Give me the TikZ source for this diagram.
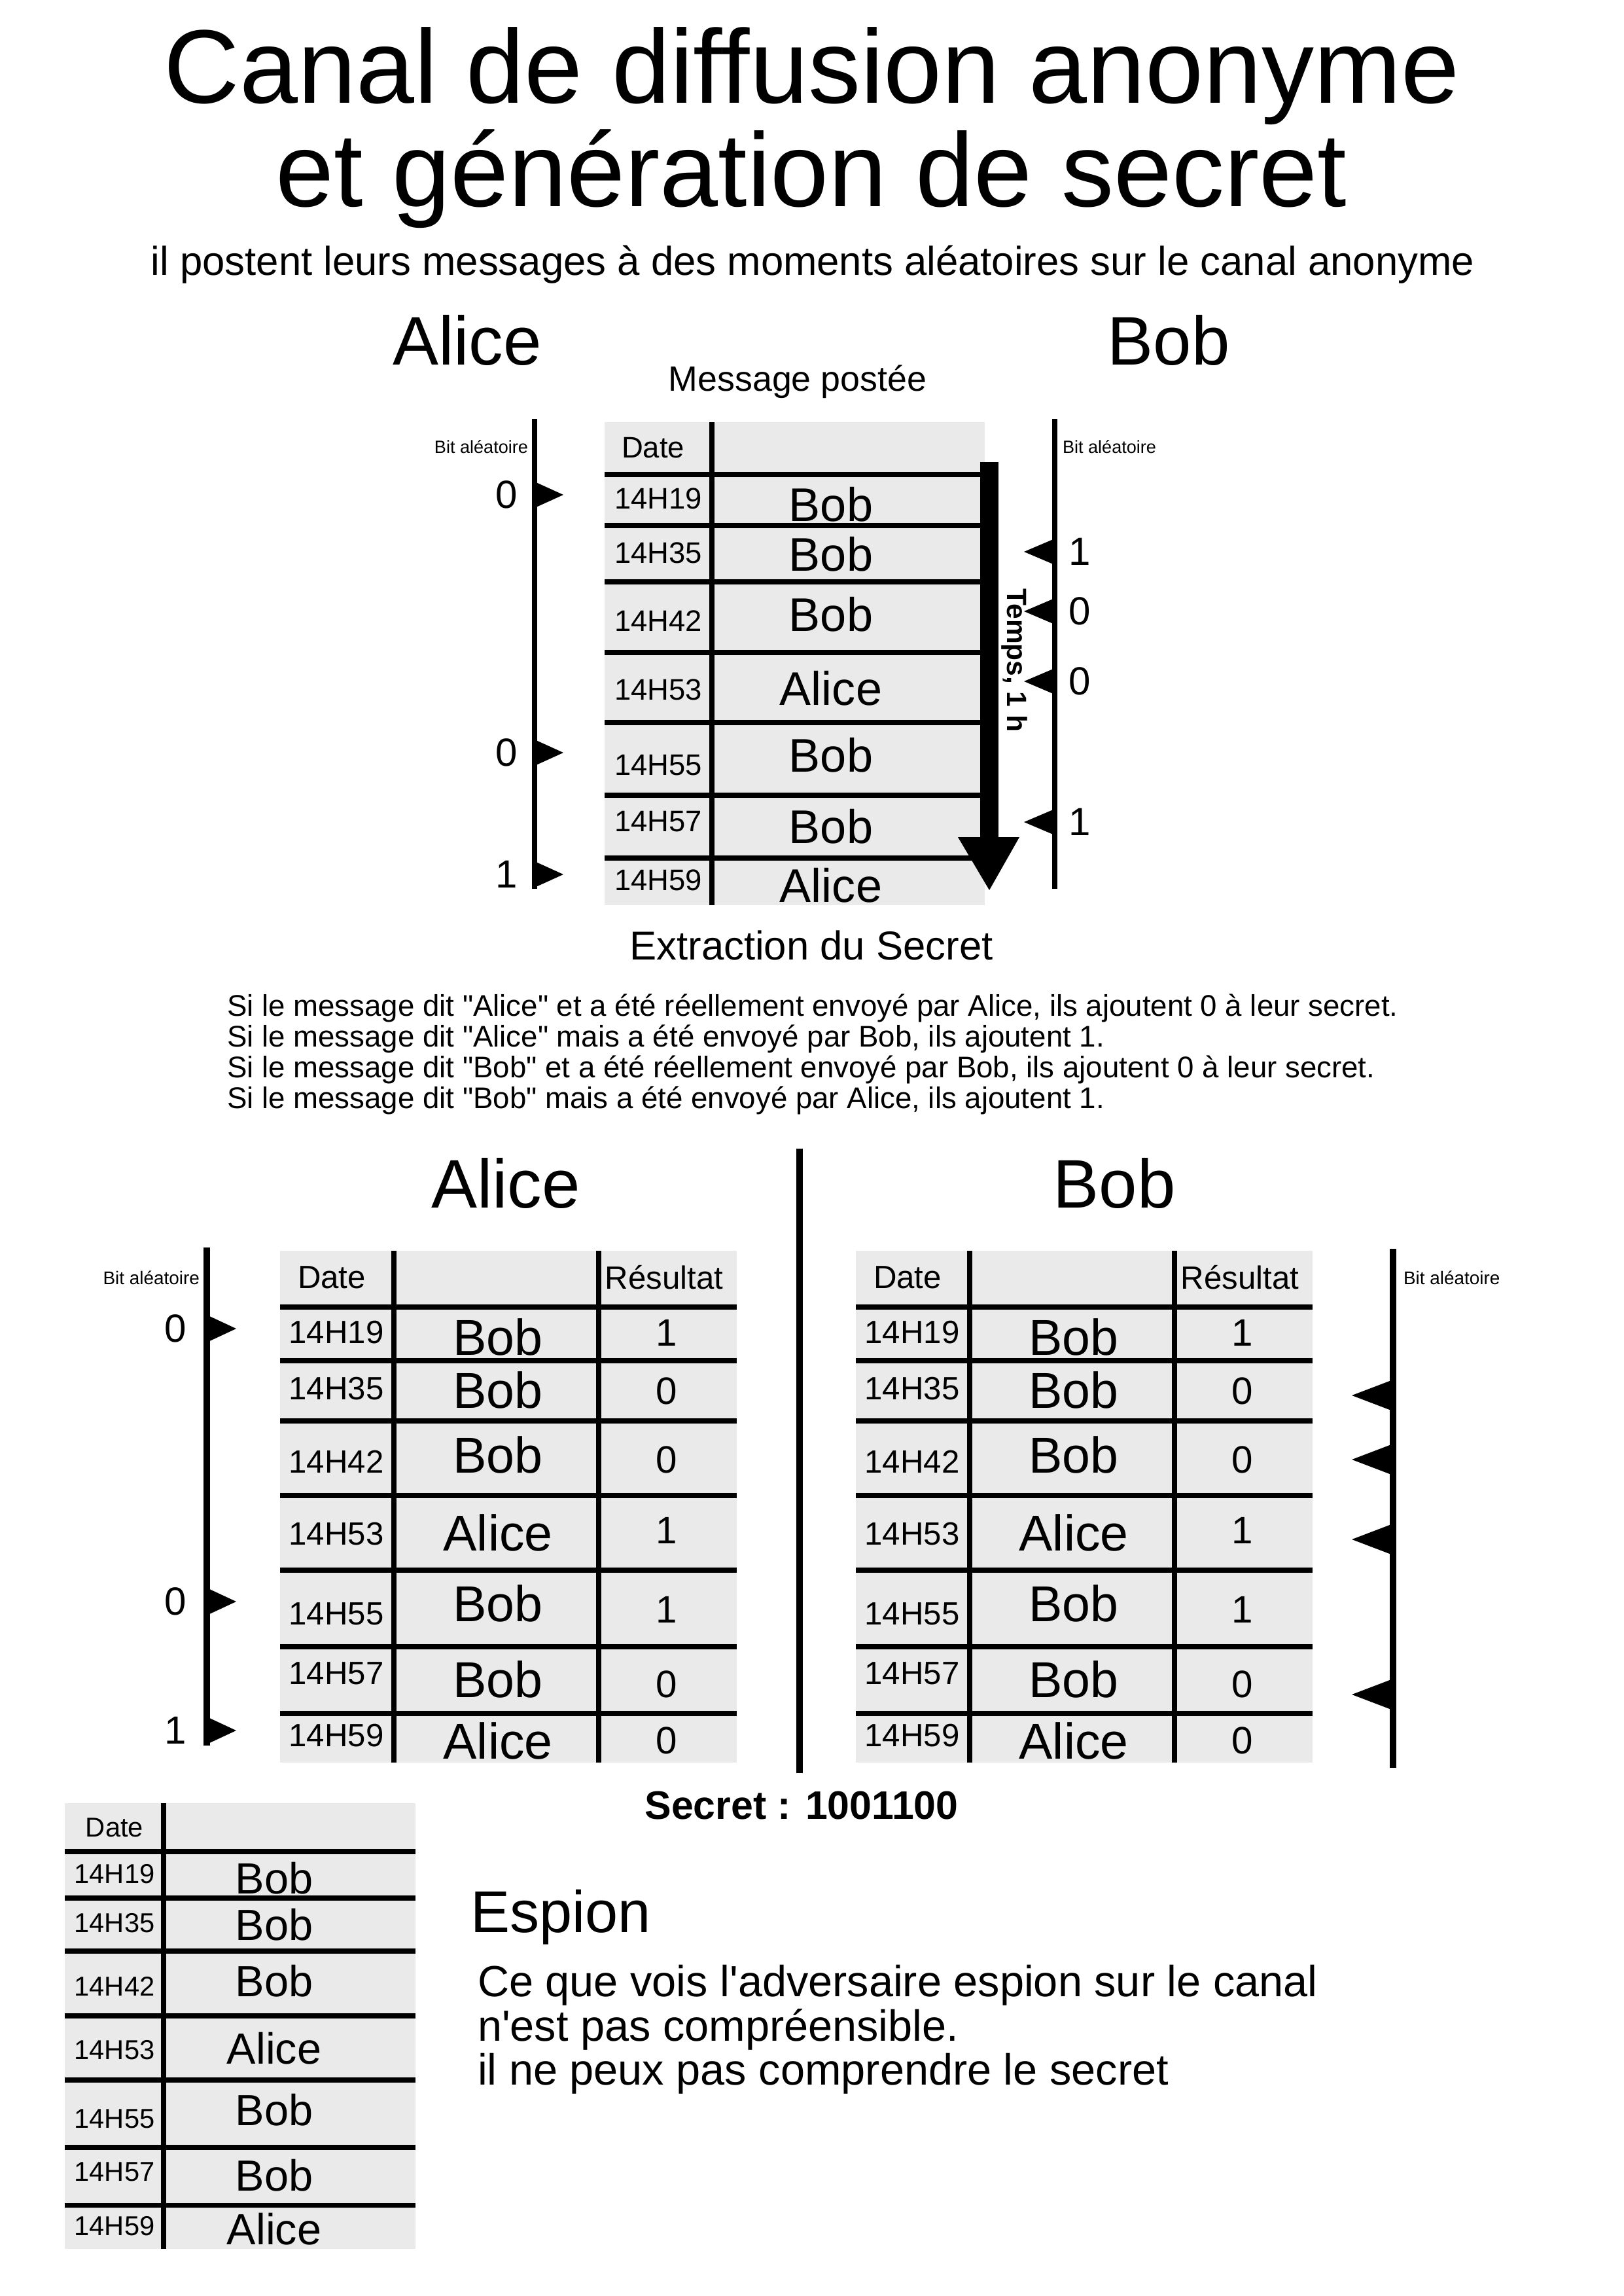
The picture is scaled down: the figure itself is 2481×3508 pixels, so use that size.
\documentclass[tikz,border=0pt]{standalone}
\usepackage{fontspec}
\setmainfont{Liberation Sans}
\definecolor{tabgray}{RGB}{234,234,234}
\newcommand{\fsz}[1]{\fontsize{#1}{#1}\selectfont}
\newcommand{\dq}{\XeTeXglyph\XeTeXcharglyph"22\relax}
\newcommand{\sq}{\XeTeXglyph\XeTeXcharglyph"27\relax}
\begin{document}
\begin{tikzpicture}[x=0.24pt,y=-0.24pt,
  txt/.style={inner sep=0pt,outer sep=0pt},
  tline/.style={line width=1.7pt},
  axistop/.style={line width=2pt},
  axislow/.style={line width=2.4pt},
  flag/.style={fill=black},
  tdate/.style={txt,font=\fsz{10.9}},
  tname/.style={txt,font=\fsz{17.3}},
  ldate/.style={txt,font=\fsz{11.8}},
  lname/.style={txt,font=\fsz{18.5}},
  lres/.style={txt,font=\fsz{14}},
  sdate/.style={txt,font=\fsz{10}},
  sname/.style={txt,font=\fsz{16}},
  bitlab/.style={txt,font=\fsz{14.4}},
  bitsmall/.style={txt,font=\fsz{6.5}},
  rule/.style={txt,anchor=base west,font=\fsz{10.95}},
  person/.style={txt,anchor=base,font=\fsz{25.2}}]
\useasboundingbox (0,0) rectangle (2481,3508);
\fill[white] (0,0) rectangle (2481,3508);

% ---------- titles ----------
\node[txt,anchor=base,font=\fsz{38.4}] (title1) at (1241,158) {Canal de diffusion anonyme};
\node[txt,anchor=base,font=\fsz{38.4}] (title2) at (1240,316) {et génération de secret};
\node[txt,anchor=base,font=\fsz{14.8}] (subtitle) at (1242,421) {il postent leurs messages à des moments aléatoires sur le canal anonyme};
\node[person] (aliceTop) at (714,558) {Alice};
\node[person] (bobTop) at (1786,558) {Bob};
\node[txt,anchor=base,font=\fsz{12.9}] (msg) at (1219,598) {Message postée};

% ---------- top table ----------
\fill[tabgray] (924,645) rectangle (1505,1383);
\foreach \y in {725,803,889,997,1104,1215,1311}
  \draw[tline] (924,\y) -- (1498,\y);
\draw[tline] (1088,645) -- (1088,1383);
\node[tdate] (topHdate) at (998,684) {Date};
\foreach \y/\t [count=\i] in {762/14H19,845/14H35,949/14H42,1054/14H53,1169/14H55,1255/14H57,1345/14H59}
  \node[tdate] (topdate\i) at (1006,\y) {\t};
\foreach \y/\t [count=\i] in {771/Bob,847/Bob,939/Bob,1052/Alice,1154/Bob,1263/Bob,1353/Alice}
  \node[tname] (topname\i) at (1270,\y) {\t};

% time arrow
\coordinate (arrTop) at (1512,706);
\coordinate (arrTip) at (1512,1360);
\fill (1498,706) rectangle (1526,1279);
\fill (1464,1279) -- (1558,1279) -- (arrTip) -- cycle;
\node[txt,rotate=-90,font=\bfseries\fsz{10.2}] (temps) at (1550,1009) {Temps, 1 h};

% Alice axis (top)
\coordinate (aTopA) at (817,640);
\coordinate (aTopB) at (817,1358);
\draw[axistop] (aTopA) -- (aTopB);
\node[bitsmall,anchor=east] (bitA) at (807,683) {Bit aléatoire};
\foreach \y/\b [count=\i] in {756/0,1150/0,1336/1} {
  \fill[flag] (817,\y-20) -- (861,\y) -- (817,\y+20) -- cycle;
  \node[bitlab] (bitAl\i) at (774,\y) {\b};
}
% Bob axis (top)
\coordinate (bTopA) at (1612,640);
\coordinate (bTopB) at (1612,1358);
\draw[axistop] (bTopA) -- (bTopB);
\node[bitsmall,anchor=west] (bitB) at (1624,683) {Bit aléatoire};
\foreach \y/\b [count=\i] in {843/1,934/0,1041/0,1256/1} {
  \fill[flag] (1612,\y-20) -- (1565,\y) -- (1612,\y+20) -- cycle;
  \node[bitlab] (bitBl\i) at (1650,\y) {\b};
}

\node[txt,anchor=base,font=\fsz{14.8}] (extract) at (1240,1466) {Extraction du Secret};

% ---------- rules ----------
\node[rule] (r1) at (347,1552) {Si le message dit \dq Alice\dq{} et a été réellement envoyé par Alice, ils ajoutent 0 à leur secret.};
\node[rule] (r2) at (347,1599) {Si le message dit \dq Alice\dq{} mais a été envoyé par Bob, ils ajoutent 1.};
\node[rule] (r3) at (347,1646) {Si le message dit \dq Bob\dq{} et a été réellement envoyé par Bob, ils ajoutent 0 à leur secret.};
\node[rule] (r4) at (347,1693) {Si le message dit \dq Bob\dq{} mais a été envoyé par Alice, ils ajoutent 1.};

% ---------- middle section ----------
\node[person] (aliceMid) at (773,1845) {Alice};
\node[person] (bobMid) at (1703,1845) {Bob};
\draw[line width=2.4pt] (1222,1755) -- (1222,2709);

\foreach \off/\p in {0/L,880/R} {
  \fill[tabgray] ({428+\off},1911) rectangle ({1126+\off},2693);
  \foreach \y in {1997,2079,2171,2285,2399,2516,2618}
    \draw[tline] ({428+\off},\y) -- ({1126+\off},\y);
  \draw[tline] ({602+\off},1911) -- ({602+\off},2693);
  \draw[tline] ({915+\off},1911) -- ({915+\off},2693);
  \node[ldate] (hdate\p) at ({507+\off},1952) {Date};
  \node[ldate] (hres\p) at ({1015+\off},1952) {Résultat};
  \foreach \y/\t [count=\i] in {2036/14H19,2122/14H35,2233/14H42,2344/14H53,2466/14H55,2557/14H57,2652/14H59}
    \node[ldate] (date\p\i) at ({514+\off},\y) {\t};
  \foreach \y/\t [count=\i] in {2043/Bob,2124/Bob,2223/Bob,2342/Alice,2450/Bob,2566/Bob,2660/Alice}
    \node[lname] (name\p\i) at ({761+\off},\y) {\t};
  \foreach \y/\t [count=\i] in {2036/1,2125/0,2230/0,2338/1,2459/1,2573/0,2659/0}
    \node[lres] (res\p\i) at ({1019+\off},\y) {\t};
}

% lower Alice axis
\coordinate (aLowA) at (316,1906);
\coordinate (aLowB) at (316,2667);
\draw[axislow] (aLowA) -- (aLowB);
\node[bitsmall,anchor=east,font=\fsz{6.7}] (bitAlow) at (305,1952) {Bit aléatoire};
\foreach \y/\b [count=\i] in {2030/0,2447/0,2644/1} {
  \fill[flag] (316,\y-21) -- (361,\y) -- (316,\y+21) -- cycle;
  \node[bitlab] (bitALl\i) at (268,\y) {\b};
}
% lower Bob axis
\coordinate (bLowA) at (2129,1908);
\coordinate (bLowB) at (2129,2701);
\draw[axislow] (bLowA) -- (bLowB);
\node[bitsmall,anchor=west,font=\fsz{6.7}] (bitBlow) at (2145,1952) {Bit aléatoire};
\foreach \y in {2132,2230,2352,2589}
  \fill[flag] (2129,\y-24) -- (2066,\y) -- (2129,\y+24) -- cycle;

\node[txt,anchor=base,font=\bfseries\fsz{14.6}] (secret) at (1225,2779) {Secret : 1001100};

% ---------- spy table ----------
\fill[tabgray] (99,2755) rectangle (635,3436);
\foreach \y in {2829,2900,2981,3080,3178,3281,3369}
  \draw[tline] (99,\y) -- (635,\y);
\draw[tline] (250,2755) -- (250,3436);
\node[sdate] (spyHdate) at (175,2792) {Date};
\foreach \y/\t [count=\i] in {2863/14H19,2938/14H35,3035/14H42,3132/14H53,3237/14H55,3318/14H57,3401/14H59}
  \node[sdate] (spydate\i) at (175,\y) {\t};
\foreach \y/\t [count=\i] in {2870/Bob,2941/Bob,3027/Bob,3130/Alice,3224/Bob,3324/Bob,3406/Alice}
  \node[sname] (spyname\i) at (419,\y) {\t};

\node[txt,anchor=base west,font=\fsz{21.6}] (espion) at (719,2952) {Espion};
\node[txt,anchor=base west,font=\fsz{16}] (esp1) at (730,3050) {Ce que vois l\sq adversaire espion sur le canal};
\node[txt,anchor=base west,font=\fsz{16}] (esp2) at (730,3118) {n\sq est pas compréensible.};
\node[txt,anchor=base west,font=\fsz{16}] (esp3) at (730,3185) {il ne peux pas comprendre le secret};
\end{tikzpicture}
\end{document}
